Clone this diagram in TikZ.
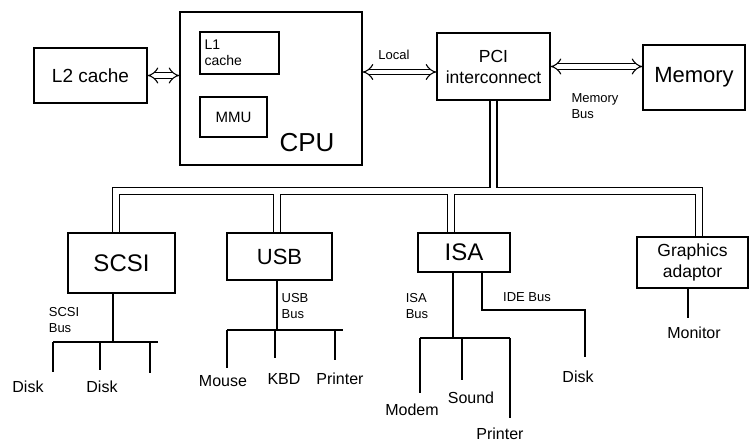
\documentclass[tikz,border=0pt]{standalone}
\usepackage{fontspec}
\setmainfont{Liberation Sans}
\usetikzlibrary{arrows.meta}
\newcommand{\fs}[1]{\fontsize{#1}{#1}\selectfont}
\begin{document}
\begin{tikzpicture}[x=1pt,y=-1pt,
  unit/.style={draw, line width=1.3pt, inner sep=2pt, align=center},
  link/.style={double, double distance=4.5pt, line width=1.1pt, {Implies[scale=1.8]}-{Implies[scale=1.8]}},
  pipeout/.style={line width=8.5pt, black},
  pipein/.style={line width=5.5pt, white},
  wire/.style={line width=1.2pt},
  tag/.style={font=\fontsize{13}{16}\selectfont, align=left, inner sep=0pt},
  dev/.style={font=\fs{16}, inner sep=0pt}]
\useasboundingbox (0,0) rectangle (750,445);

% junction points of the system bus
\coordinate (busL) at (116,191);
\coordinate (busR) at (699,191);
\coordinate (isaDrop) at (451,191);

% top row boxes
\node[unit, minimum width=113pt, minimum height=55pt, font=\fs{19}] (l2) at (90.5,75.5) {L2 cache};
\node[unit, minimum width=182pt, minimum height=153pt] (cpu) at (271,88.5) {};
\node[unit, minimum width=79pt, minimum height=42pt, text width=70pt, align=left, font=\fontsize{14}{16}\selectfont] (l1) at (239.5,53) {L1\\cache};
\node[unit, minimum width=67pt, minimum height=40pt, font=\fs{15}] (mmu) at (233.5,117) {MMU};
\node[font=\fs{26}, inner sep=0pt] (cpulbl) at (307,143) {CPU};
\node[unit, minimum width=113pt, minimum height=67pt, font=\fontsize{17.5}{21}\selectfont] (pci) at (493.5,66.5) {PCI\\interconnect};
\node[unit, minimum width=102pt, minimum height=65pt, font=\fs{22}] (mem) at (694,77.5) {Memory};

% system bus pipes (outline pass, then hollow pass)
\foreach \sty in {pipeout,pipein}{
  \draw[\sty] (pci.south) -- (pci.south |- busL);
  \draw[\sty] (116,233) -- (busL) -- (busR) -- (699,237);
  \draw[\sty] (277,233) -- (277,191);
  \draw[\sty] (isaDrop |- 0,233) -- (isaDrop);
}

% bus-attached controllers
\node[unit, minimum width=107pt, minimum height=60pt, font=\fs{24}] (scsi) at (121.5,263) {SCSI};
\node[unit, minimum width=105pt, minimum height=47pt, font=\fs{22}] (usb) at (279.5,256.5) {USB};
\node[unit, minimum width=92pt, minimum height=39pt, font=\fs{24}] (isa) at (464,252.5) {ISA};
\node[unit, minimum width=111pt, minimum height=51pt, font=\fontsize{17.5}{21}\selectfont] (gfx) at (692.5,262.5) {Graphics\\adaptor};

% point-to-point links
\coordinate (loc) at (0,72);
\draw[link] (l2.east) -- (l2.east -| cpu.west);
\draw[link] (cpu.east |- loc) -- (pci.west |- loc);
\draw[link] (pci.east) -- (pci.east -| mem.west);
\node[tag] (loclbl) at (394,55) {Local};
\node[tag] (membus) at (595,106) {Memory\\Bus};

% SCSI bus
\coordinate (sj) at (113,342);
\draw[wire] (sj |- scsi.south) -- (sj);
\draw[wire] (53,342) -- (158,342);
\draw[wire] (53,342) -- (53,372);
\draw[wire] (100,342) -- (100,370);
\draw[wire] (150,342) -- (150,373);
\node[tag] (scsibus) at (64,320) {SCSI\\Bus};
\node[dev] (disk1) at (28,387) {Disk};
\node[dev] (disk2) at (102,387) {Disk};

% USB bus
\coordinate (uj) at (277,330);
\draw[wire] (uj |- usb.south) -- (uj);
\draw[wire] (227,330) -- (343,330);
\draw[wire] (227,330) -- (227,368);
\draw[wire] (275,330) -- (275,358);
\draw[wire] (335,330) -- (335,360);
\node[tag] (usbbus) at (295,306) {USB\\Bus};
\node[dev] (mouse) at (223,381) {Mouse};
\node[dev] (kbd) at (284,379) {KBD};
\node[dev] (uprn) at (340,379) {Printer};

% ISA bus
\coordinate (ij) at (453,338);
\draw[wire] (ij |- isa.south) -- (ij);
\draw[wire] (420,338) -- (510,338);
\draw[wire] (420,338) -- (420,393);
\draw[wire] (462,338) -- (462,380);
\draw[wire] (510,338) -- (510,418);
\node[tag] (isabus) at (417,306) {ISA\\Bus};
\node[dev] (modem) at (412,410) {Modem};
\node[dev] (sound) at (471,398) {Sound};
\node[dev] (iprn) at (500,434) {Printer};

% IDE bus
\coordinate (dj) at (482,310);
\draw[wire] (dj |- isa.south) -- (dj) -- (585,310) -- (585,357);
\node[tag] (idebus) at (527,297) {IDE Bus};
\node[dev] (disk3) at (578,377) {Disk};

% display
\coordinate (gj) at (688,318);
\draw[wire] (gj |- gfx.south) -- (gj);
\node[dev] (mon) at (694,333) {Monitor};
\end{tikzpicture}
\end{document}
